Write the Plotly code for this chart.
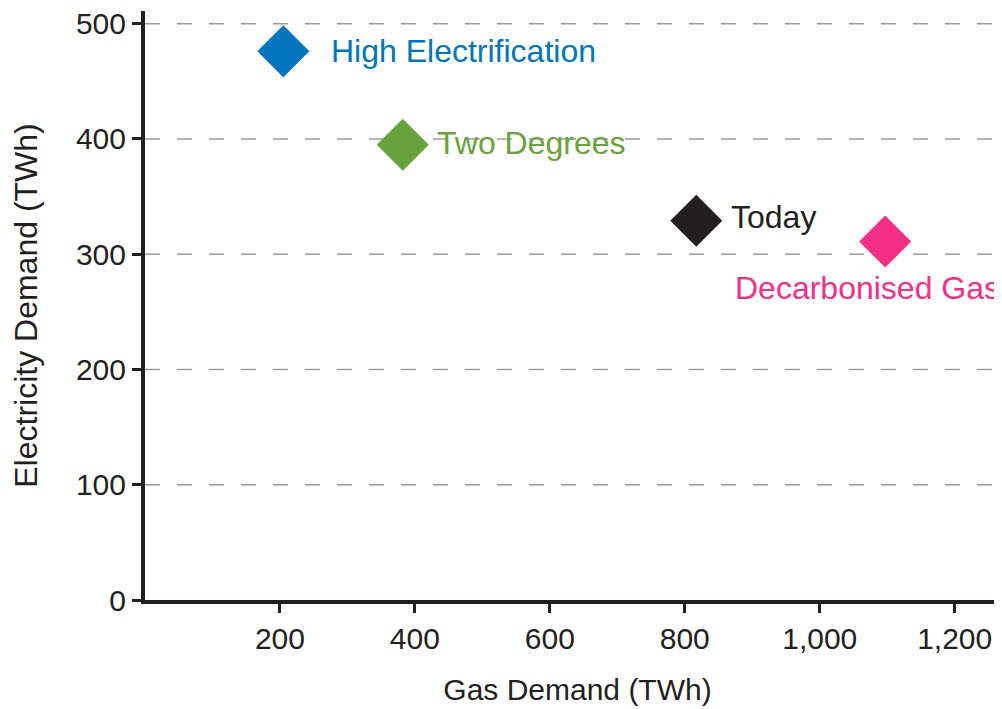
import plotly.graph_objects as go

scenarios = ["High Electrification", "Two Degrees", "Today", "Decarbonised Gas"]
gas_demand = [205, 382, 817, 1097]
electricity_demand = [476, 395, 329, 311]
colors = ["#0074bc", "#68a23a", "#231f20", "#f52f85"]
x_ticks = [200, 400, 600, 800, 1000, 1200]
x_tick_labels = ["200", "400", "600", "800", "1,000", "1,200"]
y_ticks = [0, 100, 200, 300, 400, 500]

# label placement (pixel offsets from each marker)
label_shift = [(46, 0), (32, 2), (33, 4), (-152, -46)]

FONT = "Liberation Sans, Arial, Helvetica, sans-serif"
AXIS = "#231f20"

fig = go.Figure()
fig.add_trace(go.Scatter(
    x=gas_demand, y=electricity_demand, mode="markers",
    marker=dict(symbol="diamond", size=40, color=colors, line=dict(width=0)),
    cliponaxis=False, showlegend=False, hoverinfo="skip",
))

for name, gx, ey, c, (dx, dy) in zip(scenarios, gas_demand, electricity_demand, colors, label_shift):
    fig.add_annotation(
        x=gx, y=ey, xref="x", yref="y", text=name, showarrow=False,
        xanchor="left", yanchor="middle", xshift=dx, yshift=dy,
        font=dict(family=FONT, size=32, color=c),
    )

# dashed gridlines
for yv in y_ticks[1:]:
    fig.add_shape(type="line", xref="paper", yref="y", x0=0, x1=1, y0=yv, y1=yv,
                  line=dict(color="#9a9a9a", width=1.5, dash="15px,17px"), layer="below")

fig.update_layout(
    width=1002, height=709,
    margin=dict(l=137, r=0, t=3, b=117),
    paper_bgcolor="white", plot_bgcolor="white",
    font=dict(family=FONT, color=AXIS),
    xaxis=dict(
        range=[0, 1282], tickvals=x_ticks, ticktext=x_tick_labels,
        showgrid=False, zeroline=False, showline=True, linecolor=AXIS, linewidth=4,
        ticks="outside", ticklen=9, tickwidth=3, tickcolor=AXIS,
        tickfont=dict(size=30, color=AXIS), ticklabeloverflow="allow",
        title=dict(text="Gas Demand (TWh)", font=dict(size=30, color=AXIS), standoff=26),
    ),
    yaxis=dict(
        range=[0, 511], tickvals=y_ticks,
        showgrid=False, zeroline=False, showline=True, linecolor=AXIS, linewidth=4,
        ticks="outside", ticklen=9, tickwidth=3, tickcolor=AXIS,
        tickfont=dict(size=30, color=AXIS), ticklabeloverflow="allow",
        title=dict(text="Electricity Demand (TWh)", font=dict(size=32, color=AXIS), standoff=30),
    ),
)

fig.write_html("out.html")
